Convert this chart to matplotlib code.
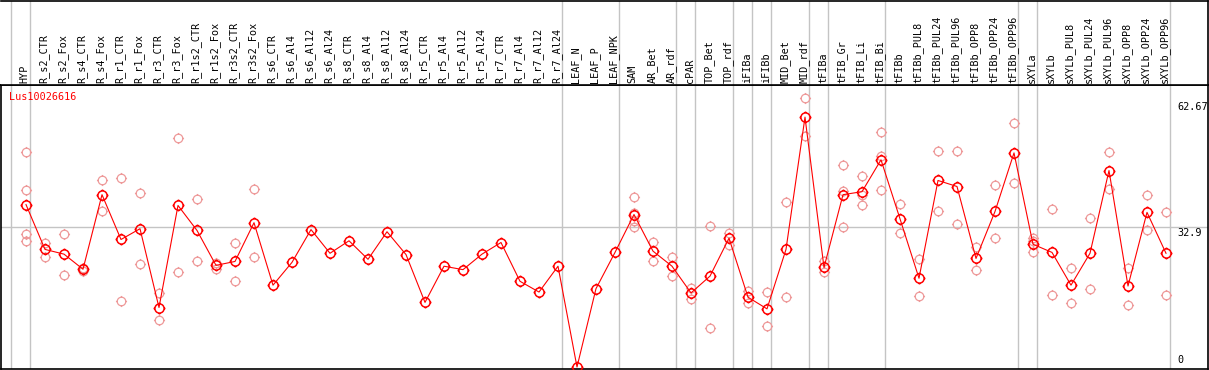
import numpy as np
import matplotlib
matplotlib.use('Agg')
import matplotlib.pyplot as plt
from matplotlib.path import Path
from matplotlib import transforms

samples = ['HYP', 'R_s2_CTR', 'R_s2_Fox', 'R_s4_CTR', 'R_s4_Fox', 'R_r1_CTR', 'R_r1_Fox',
           'R_r3_CTR', 'R_r3_Fox', 'R_r1s2_CTR', 'R_r1s2_Fox', 'R_r3s2_CTR', 'R_r3s2_Fox',
           'R_s6_CTR', 'R_s6_Al4', 'R_s6_Al12', 'R_s6_Al24', 'R_s8_CTR', 'R_s8_Al4',
           'R_s8_Al12', 'R_s8_Al24', 'R_r5_CTR', 'R_r5_Al4', 'R_r5_Al12', 'R_r5_Al24',
           'R_r7_CTR', 'R_r7_Al4', 'R_r7_Al12', 'R_r7_Al24', 'LEAF_N', 'LEAF_P', 'LEAF_NPK',
           'SAM', 'AR_Bet', 'AR_rdf', 'cPAR', 'TOP_Bet', 'TOP_rdf', 'iFIBa', 'iFIBb',
           'MID_Bet', 'MID_rdf', 'tFIBa', 'tFIB_Gr', 'tFIB_Li', 'tFIB_Bi', 'tFIBb',
           'tFIBb_PUL8', 'tFIBb_PUL24', 'tFIBb_PUL96', 'tFIBb_OPP8', 'tFIBb_OPP24',
           'tFIBb_OPP96', 'sXYLa', 'sXYLb', 'sXYLb_PUL8', 'sXYLb_PUL24', 'sXYLb_PUL96',
           'sXYLb_OPP8', 'sXYLb_OPP24', 'sXYLb_OPP96']

# mean expression (red line)
means = [38.0, 27.6, 26.5, 23.0, 40.3, 29.9, 32.4, 14.1, 37.8, 32.0, 23.9, 24.8, 33.8,
         19.3, 24.6, 32.2, 26.7, 29.6, 25.3, 31.7, 26.4, 15.3, 23.7, 22.9, 26.5,
         29.2, 20.2, 17.7, 23.7, 0.3, 18.5, 26.9,
         35.7, 27.2, 23.7, 17.5, 21.4, 30.2, 16.5, 13.8,
         27.6, 58.3, 23.4, 40.3, 41.0, 48.4, 34.7,
         20.9, 43.6, 42.2, 25.5, 36.4, 50.0,
         28.8, 26.9, 19.3, 26.7, 45.9, 19.1, 36.2, 26.7]

# replicate values (pink circles), empty where only the mean is shown
replicates = [
    [50.2, 41.5, 31.1, 29.5], [29.2, 25.9], [31.1, 21.6], [23.2, 22.5], [43.8, 36.6],
    [44.2, 15.6], [40.7, 24.2], [17.5, 11.2], [53.4, 22.3], [39.3, 24.8], [24.5, 23.0],
    [29.2, 20.2], [41.7, 25.8],
    [], [], [], [], [], [], [], [], [], [], [], [], [], [], [], [], [], [], [],
    [39.8, 36.1, 34.2, 32.9], [29.4, 24.8], [25.9, 21.4], [18.6, 16.2], [33.1, 9.4],
    [31.3, 28.6], [17.9, 15.1], [17.8, 9.8], [38.6, 16.5], [62.67, 54.0], [24.8, 22.4],
    [47.3, 41.1, 32.9], [44.7, 40.3, 38.0], [54.9, 49.2, 41.5], [38.2, 31.3],
    [25.3, 16.7], [50.5, 36.6], [50.5, 33.6], [28.1, 22.9], [42.6, 30.2], [57.0, 43.0],
    [30.3, 29.5, 27.1], [36.9, 17.0], [23.2, 15.1], [34.8, 18.5], [50.3, 41.7],
    [23.2, 14.7], [40.3, 32.0], [36.2, 17.0]]

group_after = [-1, 0, 28, 31, 34, 35, 37, 38, 39, 41, 42, 45, 52, 53, 60]
ytick_vals = [0, 32.9, 62.67]
ytick_text = ['0', '32.9', '62.67']
gene = 'Lus10026616'

W, H = 1209, 370
fig = plt.figure(figsize=(W / 100, H / 100), dpi=100)
ax = fig.add_axes([1 / W, 1 / H, 1207 / W, 284 / H])
hd = fig.add_axes([1 / W, 285 / H, 1207 / W, 84 / H])

x = np.arange(len(samples))
xl = ((1 - 26) / 19, (1208 - 26) / 19)
for a in (ax, hd):
    a.set_xlim(*xl)
    a.set_xticks([])
    a.set_yticks([])
    for s in a.spines.values():
        s.set_color('black')
        s.set_linewidth(1.2)
    for k in group_after:
        a.axvline(k + 4 / 19, color='#c4c4c4', lw=1.0, zorder=0)
hd.spines['left'].set_visible(False)
ax.set_ylim(-0.16, 65.76)
hd.set_ylim(0, 1)

# circle marker with small ticks
circ = Path.unit_circle()
ticks = Path([(0, 1), (0, 1.3), (0, -1), (0, -1.3), (1, 0), (1.3, 0), (-1, 0), (-1.3, 0)],
             [Path.MOVETO, Path.LINETO] * 4)
mk = Path.make_compound_path(circ, ticks)

ax.axhline(32.9, color='#c4c4c4', lw=1.0, zorder=0)

rx = [i for i, r in enumerate(replicates) for _ in r]
ry = [v for r in replicates for v in r]
ax.plot(rx, ry, linestyle='none', marker=mk, markersize=8.0, markerfacecolor='none',
        markeredgecolor='#ee9a9a', markeredgewidth=0.9, zorder=2)
ax.plot(x, means, color='red', lw=0.8, marker=mk, markersize=8.6, markerfacecolor='none',
        markeredgecolor='red', markeredgewidth=1.1, zorder=3)

mono = 'DejaVu Sans Mono'
ax.text(8 / 1207, (369 - 97) / 284, gene, transform=ax.transAxes, color='red',
        fontsize=7.3, family=mono, va='center', ha='left')

trans = transforms.blended_transform_factory(ax.transAxes, ax.transData)
offs = {'0': (3.5, 'bottom'), '32.9': (-1, 'top'), '62.67': (-4, 'top')}
for v, t in zip(ytick_vals, ytick_text):
    dy, va = offs[t]
    ax.annotate(t, xy=((1177 - 1) / 1207, v), xycoords=trans, xytext=(0, dy),
                textcoords='offset pixels', fontsize=7.3, family=mono, va=va, ha='left')

htrans = transforms.blended_transform_factory(hd.transData, hd.transAxes)
for i, s in enumerate(samples):
    hd.text(i - 0.06, 2 / 84, s, transform=htrans, rotation=90, fontsize=7.3, family=mono,
            ha='center', va='bottom')

fig.savefig('out.png', dpi=100)
